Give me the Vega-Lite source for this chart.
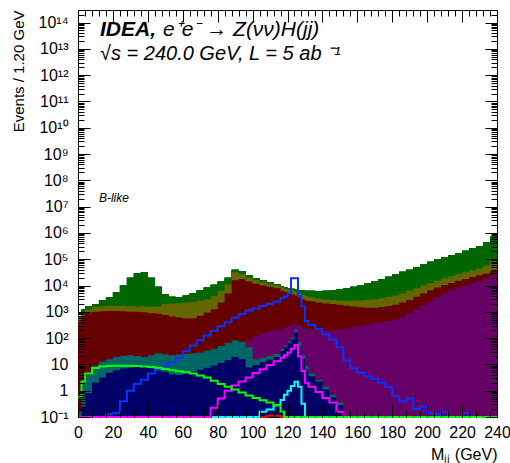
{
  "$schema": "https://vega.github.io/schema/vega-lite/v6.json",
  "width": 419,
  "height": 407,
  "autosize": "none",
  "padding": {"left": 78, "top": 10, "right": 13, "bottom": 46},
  "background": "white",
  "config": {
    "font": "Liberation Sans",
    "view": {"stroke": "black", "strokeWidth": 1},
    "axis": {"grid": false, "labelColor": "black", "tickColor": "black", "titleColor": "black", "labelFont": "Liberation Sans", "titleFont": "Liberation Sans"}
  },
  "data": {"values": [
    {"M":0,"Z":631,"ZZ":562,"WW":398,"qqH":0.01,"HWW":0.158,"HZZ":0.032,"Hss":0.01,"Hbb":0.01,"Hcc":0.01,"Hgg":0.01,"Htt":0.562},
    {"M":2,"Z":1259,"ZZ":891,"WW":708,"qqH":0.01,"HWW":2.0,"HZZ":0.251,"Hss":0.01,"Hbb":0.01,"Hcc":0.01,"Hgg":0.01,"Htt":2.24},
    {"M":4,"Z":1585,"ZZ":1259,"WW":891,"qqH":0.01,"HWW":3.98,"HZZ":0.794,"Hss":0.01,"Hbb":0.01,"Hcc":0.01,"Hgg":0.01,"Htt":4.47},
    {"M":8,"Z":1995,"ZZ":1514,"WW":1000,"qqH":0.01,"HWW":8.9,"HZZ":2.0,"Hss":0.01,"Hbb":0.01,"Hcc":0.01,"Hgg":0.01,"Htt":7.24},
    {"M":12,"Z":2818,"ZZ":1585,"WW":1047,"qqH":0.01,"HWW":12.6,"HZZ":3.16,"Hss":0.01,"Hbb":0.01,"Hcc":0.01,"Hgg":0.01,"Htt":8.32},
    {"M":16,"Z":3548,"ZZ":1660,"WW":1072,"qqH":0.01,"HWW":15.8,"HZZ":4.79,"Hss":0.01,"Hbb":0.126,"Hcc":0.01,"Hgg":0.01,"Htt":8.71},
    {"M":20,"Z":5623,"ZZ":1660,"WW":1072,"qqH":0.01,"HWW":19.1,"HZZ":6.03,"Hss":0.01,"Hbb":0.141,"Hcc":0.01,"Hgg":0.01,"Htt":8.91},
    {"M":24,"Z":10000,"ZZ":1660,"WW":1047,"qqH":0.01,"HWW":21.4,"HZZ":6.92,"Hss":0.01,"Hbb":0.398,"Hcc":0.01,"Hgg":0.01,"Htt":8.91},
    {"M":28,"Z":19953,"ZZ":1660,"WW":1000,"qqH":0.01,"HWW":22.9,"HZZ":7.41,"Hss":0.01,"Hbb":1.0,"Hcc":0.01,"Hgg":0.01,"Htt":8.91},
    {"M":32,"Z":30200,"ZZ":1585,"WW":1000,"qqH":0.01,"HWW":20.9,"HZZ":7.94,"Hss":0.01,"Hbb":1.78,"Hcc":0.01,"Hgg":0.01,"Htt":8.71},
    {"M":36,"Z":31623,"ZZ":1585,"WW":955,"qqH":0.01,"HWW":19.1,"HZZ":7.94,"Hss":0.01,"Hbb":2.63,"Hcc":0.01,"Hgg":0.01,"Htt":8.32},
    {"M":40,"Z":19953,"ZZ":1514,"WW":891,"qqH":0.01,"HWW":22.4,"HZZ":7.08,"Hss":0.01,"Hbb":4.47,"Hcc":0.01,"Hgg":0.01,"Htt":7.94},
    {"M":44,"Z":8913,"ZZ":1585,"WW":851,"qqH":0.01,"HWW":26.3,"HZZ":6.03,"Hss":0.01,"Hbb":6.31,"Hcc":0.01,"Hgg":0.01,"Htt":7.41},
    {"M":48,"Z":4786,"ZZ":1995,"WW":759,"qqH":0.01,"HWW":24.0,"HZZ":5.25,"Hss":0.01,"Hbb":8.91,"Hcc":0.01,"Hgg":0.01,"Htt":6.76},
    {"M":52,"Z":3715,"ZZ":2089,"WW":661,"qqH":0.01,"HWW":22.4,"HZZ":4.17,"Hss":0.01,"Hbb":12.0,"Hcc":0.01,"Hgg":0.01,"Htt":6.03},
    {"M":56,"Z":3548,"ZZ":2138,"WW":603,"qqH":0.01,"HWW":24.0,"HZZ":3.98,"Hss":0.01,"Hbb":17.8,"Hcc":0.01,"Hgg":0.01,"Htt":5.5},
    {"M":60,"Z":4169,"ZZ":2239,"WW":562,"qqH":0.01,"HWW":25.1,"HZZ":4.47,"Hss":0.01,"Hbb":31.6,"Hcc":0.01,"Hgg":0.01,"Htt":5.01},
    {"M":64,"Z":5248,"ZZ":2399,"WW":575,"qqH":0.01,"HWW":26.3,"HZZ":5.25,"Hss":0.01,"Hbb":52.5,"Hcc":0.01,"Hgg":0.01,"Htt":4.47},
    {"M":68,"Z":6607,"ZZ":2630,"WW":708,"qqH":0.01,"HWW":28.2,"HZZ":6.31,"Hss":0.01,"Hbb":83.2,"Hcc":0.01,"Hgg":0.01,"Htt":3.8},
    {"M":72,"Z":8318,"ZZ":3020,"WW":933,"qqH":0.01,"HWW":33.1,"HZZ":7.41,"Hss":0.01,"Hbb":126,"Hcc":0.01,"Hgg":0.01,"Htt":3.16},
    {"M":76,"Z":10715,"ZZ":3981,"WW":1259,"qqH":0.01,"HWW":39.8,"HZZ":8.91,"Hss":0.01,"Hbb":191,"Hcc":0.01,"Hgg":0.224,"Htt":2.4},
    {"M":80,"Z":14125,"ZZ":6310,"WW":2239,"qqH":0.01,"HWW":50.1,"HZZ":11.2,"Hss":0.01,"Hbb":282,"Hcc":0.01,"Hgg":0.501,"Htt":1.78},
    {"M":84,"Z":19953,"ZZ":11220,"WW":5012,"qqH":0.01,"HWW":66.1,"HZZ":14.8,"Hss":0.01,"Hbb":398,"Hcc":0.01,"Hgg":1.0,"Htt":1.41},
    {"M":88,"Z":39811,"ZZ":31623,"WW":15849,"qqH":15.8,"HWW":83.2,"HZZ":19.1,"Hss":0.01,"Hbb":603,"Hcc":0.01,"Hgg":1.58,"Htt":1.12},
    {"M":92,"Z":35481,"ZZ":28184,"WW":17783,"qqH":39.8,"HWW":70.8,"HZZ":15.8,"Hss":0.01,"Hbb":832,"Hcc":0.01,"Hgg":2.24,"Htt":0.851},
    {"M":96,"Z":23988,"ZZ":19953,"WW":14125,"qqH":79.4,"HWW":44.7,"HZZ":7.59,"Hss":0.01,"Hbb":1122,"Hcc":0.01,"Hgg":3.16,"Htt":0.661},
    {"M":100,"Z":19055,"ZZ":15849,"WW":11749,"qqH":126,"HWW":15.8,"HZZ":9.55,"Hss":0.01,"Hbb":1349,"Hcc":0.01,"Hgg":4.68,"Htt":0.525},
    {"M":104,"Z":15849,"ZZ":13183,"WW":10000,"qqH":158,"HWW":17.8,"HZZ":12.0,"Hss":0.01,"Hbb":1660,"Hcc":0.158,"Hgg":6.61,"Htt":0.437},
    {"M":108,"Z":13183,"ZZ":11220,"WW":8913,"qqH":178,"HWW":20.9,"HZZ":15.1,"Hss":0.112,"Hbb":1995,"Hcc":0.191,"Hgg":9.55,"Htt":0.355},
    {"M":112,"Z":11220,"ZZ":10000,"WW":7943,"qqH":200,"HWW":25.1,"HZZ":19.1,"Hss":0.112,"Hbb":2399,"Hcc":0.282,"Hgg":13.2,"Htt":0.282},
    {"M":116,"Z":9333,"ZZ":8511,"WW":6310,"qqH":224,"HWW":39.8,"HZZ":31.6,"Hss":0.01,"Hbb":3311,"Hcc":0.447,"Hgg":17.8,"Htt":0.158},
    {"M":118,"Z":8511,"ZZ":7586,"WW":5754,"qqH":251,"HWW":52.5,"HZZ":44.7,"Hss":0.01,"Hbb":3802,"Hcc":0.708,"Hgg":22.4,"Htt":0.01},
    {"M":120,"Z":7943,"ZZ":7079,"WW":5248,"qqH":282,"HWW":75.9,"HZZ":63.1,"Hss":0.01,"Hbb":5012,"Hcc":1.0,"Hgg":28.2,"Htt":0.01},
    {"M":122,"Z":7586,"ZZ":6310,"WW":4677,"qqH":316,"HWW":107,"HZZ":89.1,"Hss":0.01,"Hbb":19055,"Hcc":1.51,"Hgg":39.8,"Htt":0.01},
    {"M":124,"Z":7079,"ZZ":5623,"WW":4169,"qqH":355,"HWW":209,"HZZ":166,"Hss":0.01,"Hbb":19055,"Hcc":2.19,"Hgg":55.0,"Htt":0.01},
    {"M":126,"Z":6761,"ZZ":5012,"WW":3548,"qqH":316,"HWW":70.8,"HZZ":50.1,"Hss":0.01,"Hbb":3981,"Hcc":1.41,"Hgg":20.0,"Htt":0.01},
    {"M":128,"Z":6607,"ZZ":4467,"WW":3020,"qqH":251,"HWW":22.4,"HZZ":15.8,"Hss":0.01,"Hbb":1585,"Hcc":0.316,"Hgg":5.62,"Htt":0.01},
    {"M":130,"Z":6310,"ZZ":3981,"WW":2692,"qqH":224,"HWW":8.91,"HZZ":6.31,"Hss":0.01,"Hbb":447,"Hcc":0.01,"Hgg":2.0,"Htt":0.01},
    {"M":132,"Z":6310,"ZZ":3548,"WW":2512,"qqH":200,"HWW":4.47,"HZZ":3.55,"Hss":0.01,"Hbb":316,"Hcc":0.01,"Hgg":1.41,"Htt":0.01},
    {"M":136,"Z":6166,"ZZ":3162,"WW":2239,"qqH":191,"HWW":2.63,"HZZ":2.24,"Hss":0.01,"Hbb":224,"Hcc":0.01,"Hgg":0.891,"Htt":0.01},
    {"M":140,"Z":6310,"ZZ":2951,"WW":2089,"qqH":191,"HWW":1.41,"HZZ":1.12,"Hss":0.01,"Hbb":141,"Hcc":0.01,"Hgg":0.525,"Htt":0.01},
    {"M":144,"Z":6761,"ZZ":2818,"WW":1995,"qqH":200,"HWW":0.708,"HZZ":0.562,"Hss":0.01,"Hbb":89.1,"Hcc":0.01,"Hgg":0.355,"Htt":0.01},
    {"M":148,"Z":7244,"ZZ":2692,"WW":1862,"qqH":214,"HWW":0.355,"HZZ":0.282,"Hss":0.01,"Hbb":44.7,"Hcc":0.01,"Hgg":0.158,"Htt":0.01},
    {"M":152,"Z":7943,"ZZ":2630,"WW":1698,"qqH":234,"HWW":0.01,"HZZ":0.01,"Hss":0.01,"Hbb":14.1,"Hcc":0.01,"Hgg":0.01,"Htt":0.01},
    {"M":156,"Z":8913,"ZZ":2630,"WW":1585,"qqH":263,"HWW":0.01,"HZZ":0.01,"Hss":0.01,"Hbb":7.08,"Hcc":0.01,"Hgg":0.01,"Htt":0.01},
    {"M":160,"Z":10000,"ZZ":2692,"WW":1479,"qqH":295,"HWW":0.01,"HZZ":0.01,"Hss":0.01,"Hbb":4.79,"Hcc":0.01,"Hgg":0.01,"Htt":0.01},
    {"M":164,"Z":12023,"ZZ":2818,"WW":1413,"qqH":331,"HWW":0.01,"HZZ":0.01,"Hss":0.01,"Hbb":3.55,"Hcc":0.01,"Hgg":0.01,"Htt":0.01},
    {"M":168,"Z":14125,"ZZ":3020,"WW":1413,"qqH":372,"HWW":0.01,"HZZ":0.01,"Hss":0.01,"Hbb":2.82,"Hcc":0.01,"Hgg":0.01,"Htt":0.01},
    {"M":172,"Z":17783,"ZZ":3311,"WW":1514,"qqH":398,"HWW":0.01,"HZZ":0.01,"Hss":0.01,"Hbb":2.0,"Hcc":0.01,"Hgg":0.01,"Htt":0.01},
    {"M":176,"Z":21380,"ZZ":3631,"WW":1660,"qqH":447,"HWW":0.01,"HZZ":0.01,"Hss":0.01,"Hbb":1.41,"Hcc":0.01,"Hgg":0.01,"Htt":0.01},
    {"M":180,"Z":26915,"ZZ":4169,"WW":1862,"qqH":501,"HWW":0.01,"HZZ":0.01,"Hss":0.01,"Hbb":0.631,"Hcc":0.01,"Hgg":0.01,"Htt":0.01},
    {"M":184,"Z":33113,"ZZ":5012,"WW":2239,"qqH":631,"HWW":0.01,"HZZ":0.01,"Hss":0.01,"Hbb":0.398,"Hcc":0.01,"Hgg":0.01,"Htt":0.01},
    {"M":188,"Z":39811,"ZZ":6310,"WW":2818,"qqH":891,"HWW":0.01,"HZZ":0.01,"Hss":0.01,"Hbb":0.501,"Hcc":0.01,"Hgg":0.01,"Htt":0.01},
    {"M":192,"Z":50119,"ZZ":7943,"WW":3715,"qqH":1259,"HWW":0.01,"HZZ":0.01,"Hss":0.01,"Hbb":0.2,"Hcc":0.01,"Hgg":0.01,"Htt":0.01},
    {"M":196,"Z":63096,"ZZ":10000,"WW":5012,"qqH":1778,"HWW":0.01,"HZZ":0.01,"Hss":0.01,"Hbb":0.251,"Hcc":0.01,"Hgg":0.01,"Htt":0.01},
    {"M":200,"Z":79433,"ZZ":12589,"WW":6607,"qqH":2512,"HWW":0.01,"HZZ":0.01,"Hss":0.01,"Hbb":0.141,"Hcc":0.01,"Hgg":0.01,"Htt":0.01},
    {"M":204,"Z":100000,"ZZ":15136,"WW":8318,"qqH":3548,"HWW":0.01,"HZZ":0.01,"Hss":0.01,"Hbb":0.126,"Hcc":0.01,"Hgg":0.01,"Htt":0.01},
    {"M":208,"Z":120226,"ZZ":18621,"WW":10471,"qqH":5012,"HWW":0.01,"HZZ":0.01,"Hss":0.01,"Hbb":0.158,"Hcc":0.01,"Hgg":0.01,"Htt":0.01},
    {"M":212,"Z":141254,"ZZ":22387,"WW":12589,"qqH":6607,"HWW":0.01,"HZZ":0.01,"Hss":0.01,"Hbb":0.01,"Hcc":0.01,"Hgg":0.01,"Htt":0.01},
    {"M":216,"Z":165959,"ZZ":26915,"WW":15136,"qqH":8318,"HWW":0.01,"HZZ":0.01,"Hss":0.01,"Hbb":0.01,"Hcc":0.01,"Hgg":0.01,"Htt":0.01},
    {"M":220,"Z":208930,"ZZ":31623,"WW":17783,"qqH":10000,"HWW":0.01,"HZZ":0.01,"Hss":0.01,"Hbb":0.141,"Hcc":0.01,"Hgg":0.01,"Htt":0.01},
    {"M":224,"Z":263027,"ZZ":37154,"WW":20893,"qqH":12023,"HWW":0.01,"HZZ":0.01,"Hss":0.01,"Hbb":0.01,"Hcc":0.01,"Hgg":0.01,"Htt":0.01},
    {"M":228,"Z":316228,"ZZ":44668,"WW":24547,"qqH":14454,"HWW":0.01,"HZZ":0.01,"Hss":0.01,"Hbb":0.01,"Hcc":0.01,"Hgg":0.01,"Htt":0.01},
    {"M":232,"Z":446684,"ZZ":57544,"WW":28840,"qqH":19055,"HWW":0.01,"HZZ":0.01,"Hss":0.01,"Hbb":0.01,"Hcc":0.01,"Hgg":0.01,"Htt":0.01},
    {"M":236,"Z":707946,"ZZ":79433,"WW":35481,"qqH":23988,"HWW":0.01,"HZZ":0.01,"Hss":0.01,"Hbb":0.01,"Hcc":0.01,"Hgg":0.01,"Htt":0.01},
    {"M":238,"Z":1000000,"ZZ":100000,"WW":39811,"qqH":26303,"HWW":0.01,"HZZ":0.01,"Hss":0.01,"Hbb":0.01,"Hcc":0.01,"Hgg":0.01,"Htt":0.01},
    {"M":240,"Z":1412538,"ZZ":141254,"WW":50119,"qqH":31623,"HWW":0.01,"HZZ":0.01,"Hss":0.01,"Hbb":0.01,"Hcc":0.01,"Hgg":0.01,"Htt":0.01}
  ]},
  "resolve": {"scale": {"x": "independent", "y": "independent"}, "axis": {"x": "independent", "y": "independent"}},
  "layer": [
    {
      "mark": {"type": "area", "interpolate": "step-after", "opacity": 1, "color": "#006600"},
      "encoding": {
        "x": {"field": "M", "type": "quantitative", "scale": {"domain": [0, 240], "nice": false, "zero": false},
          "axis": {"orient": "bottom", "values": [0,20,40,60,80,100,120,140,160,180,200,220,240], "ticks": true, "tickSize": -12, "domain": false, "labelPadding": 19, "labelFontSize": 16, "labelFlush": false, "labelOverlap": false, "zindex": 1,
            "title": "Mⱼⱼ (GeV)", "titleFontSize": 16, "titleFontWeight": "normal", "titleX": 419, "titleY": 37, "titleAlign": "right", "titleBaseline": "middle"}},
        "y": {"field": "Z", "type": "quantitative", "scale": {"type": "log", "domain": [0.1, 300000000000000], "clamp": true, "nice": false},
          "axis": {"orient": "left", "values": [0.1,1,10,100,1e3,1e4,1e5,1e6,1e7,1e8,1e9,1e10,1e11,1e12,1e13,1e14], "ticks": true, "tickSize": -12, "domain": false, "labelPadding": 22, "labelFontSize": 16, "labelOverlap": false, "labelFlush": false, "zindex": 1,
            "labelExpr": "datum.value < 0.5 ? '10⁻¹' : datum.value < 5 ? '1' : datum.value < 50 ? '10' : '10' + ['','','²','³','⁴','⁵','⁶','⁷','⁸','⁹','¹⁰','¹¹','¹²','¹³','¹⁴'][round(log(datum.value)/LN10)]",
            "title": "Events / 1.20 GeV", "titleFontSize": 15, "titleFontWeight": "normal", "titleX": -60, "titleY": 0, "titleAngle": 270, "titleAlign": "right", "titleBaseline": "middle"}},
        "y2": {"datum": 0.1}
      }
    },
    {
      "mark": {"type": "area", "interpolate": "step-after", "opacity": 1, "color": "#006600"},
      "encoding": {
        "x": {"field": "M", "type": "quantitative", "scale": {"domain": [0, 240], "nice": false, "zero": false}, "axis": {"orient": "bottom", "tickSize": -6, "values": [0,4,8,12,16,20,24,28,32,36,40,44,48,52,56,60,64,68,72,76,80,84,88,92,96,100,104,108,112,116,120,124,128,132,136,140,144,148,152,156,160,164,168,172,176,180,184,188,192,196,200,204,208,212,216,220,224,228,232,236,240], "labels": false, "domain": false, "title": null, "zindex": 1}},
        "y": {"field": "Z", "type": "quantitative", "scale": {"type": "log", "domain": [0.1, 300000000000000], "clamp": true, "nice": false}, "axis": {"orient": "left", "tickSize": -6, "values": [0.2,0.3,0.4,0.5,0.6,0.7,0.8,0.9,2,3,4,5,6,7,8,9,20,30,40,50,60,70,80,90,200,300,400,500,600,700,800,900,2e3,3e3,4e3,5e3,6e3,7e3,8e3,9e3,2e4,3e4,4e4,5e4,6e4,7e4,8e4,9e4,2e5,3e5,4e5,5e5,6e5,7e5,8e5,9e5,2e6,3e6,4e6,5e6,6e6,7e6,8e6,9e6,2e7,3e7,4e7,5e7,6e7,7e7,8e7,9e7,2e8,3e8,4e8,5e8,6e8,7e8,8e8,9e8,2e9,3e9,4e9,5e9,6e9,7e9,8e9,9e9,2e10,3e10,4e10,5e10,6e10,7e10,8e10,9e10,2e11,3e11,4e11,5e11,6e11,7e11,8e11,9e11,2e12,3e12,4e12,5e12,6e12,7e12,8e12,9e12,2e13,3e13,4e13,5e13,6e13,7e13,8e13,9e13,2e14], "labels": false, "domain": false, "title": null, "zindex": 1}},
        "y2": {"datum": 0.1}
      }
    },
    {
      "mark": {"type": "area", "interpolate": "step-after", "opacity": 1, "color": "#006600"},
      "encoding": {
        "x": {"field": "M", "type": "quantitative", "scale": {"domain": [0, 240], "nice": false, "zero": false}, "axis": {"orient": "top", "tickSize": -12, "values": [0,20,40,60,80,100,120,140,160,180,200,220,240], "labels": false, "domain": false, "title": null, "zindex": 1}},
        "y": {"field": "Z", "type": "quantitative", "scale": {"type": "log", "domain": [0.1, 300000000000000], "clamp": true, "nice": false}, "axis": {"orient": "right", "tickSize": -12, "values": [0.1,1,10,100,1e3,1e4,1e5,1e6,1e7,1e8,1e9,1e10,1e11,1e12,1e13,1e14], "labels": false, "domain": false, "title": null, "zindex": 1}},
        "y2": {"datum": 0.1}
      }
    },
    {
      "mark": {"type": "area", "interpolate": "step-after", "opacity": 1, "color": "#006600"},
      "encoding": {
        "x": {"field": "M", "type": "quantitative", "scale": {"domain": [0, 240], "nice": false, "zero": false}, "axis": {"orient": "top", "tickSize": -6, "values": [0,4,8,12,16,20,24,28,32,36,40,44,48,52,56,60,64,68,72,76,80,84,88,92,96,100,104,108,112,116,120,124,128,132,136,140,144,148,152,156,160,164,168,172,176,180,184,188,192,196,200,204,208,212,216,220,224,228,232,236,240], "labels": false, "domain": false, "title": null, "zindex": 1}},
        "y": {"field": "Z", "type": "quantitative", "scale": {"type": "log", "domain": [0.1, 300000000000000], "clamp": true, "nice": false}, "axis": {"orient": "right", "tickSize": -6, "values": [0.2,0.3,0.4,0.5,0.6,0.7,0.8,0.9,2,3,4,5,6,7,8,9,20,30,40,50,60,70,80,90,200,300,400,500,600,700,800,900,2e3,3e3,4e3,5e3,6e3,7e3,8e3,9e3,2e4,3e4,4e4,5e4,6e4,7e4,8e4,9e4,2e5,3e5,4e5,5e5,6e5,7e5,8e5,9e5,2e6,3e6,4e6,5e6,6e6,7e6,8e6,9e6,2e7,3e7,4e7,5e7,6e7,7e7,8e7,9e7,2e8,3e8,4e8,5e8,6e8,7e8,8e8,9e8,2e9,3e9,4e9,5e9,6e9,7e9,8e9,9e9,2e10,3e10,4e10,5e10,6e10,7e10,8e10,9e10,2e11,3e11,4e11,5e11,6e11,7e11,8e11,9e11,2e12,3e12,4e12,5e12,6e12,7e12,8e12,9e12,2e13,3e13,4e13,5e13,6e13,7e13,8e13,9e13,2e14], "labels": false, "domain": false, "title": null, "zindex": 1}},
        "y2": {"datum": 0.1}
      }
    },
    {
      "mark": {"type": "area", "interpolate": "step-after", "opacity": 1},
      "encoding": {
        "x": {"field": "M", "type": "quantitative", "scale": {"domain": [0, 240], "nice": false, "zero": false}, "axis": null},
        "y": {"field": "Z", "type": "quantitative", "scale": {"type": "log", "domain": [0.1, 300000000000000], "clamp": true, "nice": false}, "axis": null},
        "y2": {"datum": 0.1},
        "fill": {"datum": "Z", "type": "nominal",
          "scale": {"domain": ["WW", "ZZ", "Z", "HWW", "HZZ", "qqH"], "range": ["#660000", "#666600", "#006600", "#006666", "#000066", "#660066"]},
          "legend": null}
      }
    },
    {
      "mark": {"type": "area", "interpolate": "step-after", "opacity": 1},
      "encoding": {
        "x": {"field": "M", "type": "quantitative", "scale": {"domain": [0, 240], "nice": false, "zero": false}, "axis": null},
        "y": {"field": "ZZ", "type": "quantitative", "scale": {"type": "log", "domain": [0.1, 300000000000000], "clamp": true, "nice": false}, "axis": null},
        "y2": {"datum": 0.1},
        "fill": {"datum": "ZZ", "type": "nominal", "legend": null}
      }
    },
    {
      "mark": {"type": "area", "interpolate": "step-after", "opacity": 1},
      "encoding": {
        "x": {"field": "M", "type": "quantitative", "scale": {"domain": [0, 240], "nice": false, "zero": false}, "axis": null},
        "y": {"field": "WW", "type": "quantitative", "scale": {"type": "log", "domain": [0.1, 300000000000000], "clamp": true, "nice": false}, "axis": null},
        "y2": {"datum": 0.1},
        "fill": {"datum": "WW", "type": "nominal", "legend": null}
      }
    },
    {
      "mark": {"type": "area", "interpolate": "step-after", "opacity": 1},
      "encoding": {
        "x": {"field": "M", "type": "quantitative", "scale": {"domain": [0, 240], "nice": false, "zero": false}, "axis": null},
        "y": {"field": "qqH", "type": "quantitative", "scale": {"type": "log", "domain": [0.1, 300000000000000], "clamp": true, "nice": false}, "axis": null},
        "y2": {"datum": 0.1},
        "fill": {"datum": "qqH", "type": "nominal", "legend": null}
      }
    },
    {
      "mark": {"type": "area", "interpolate": "step-after", "opacity": 1},
      "encoding": {
        "x": {"field": "M", "type": "quantitative", "scale": {"domain": [0, 240], "nice": false, "zero": false}, "axis": null},
        "y": {"field": "HWW", "type": "quantitative", "scale": {"type": "log", "domain": [0.1, 300000000000000], "clamp": true, "nice": false}, "axis": null},
        "y2": {"datum": 0.1},
        "fill": {"datum": "HWW", "type": "nominal", "legend": null}
      }
    },
    {
      "mark": {"type": "area", "interpolate": "step-after", "opacity": 1},
      "encoding": {
        "x": {"field": "M", "type": "quantitative", "scale": {"domain": [0, 240], "nice": false, "zero": false}, "axis": null},
        "y": {"field": "HZZ", "type": "quantitative", "scale": {"type": "log", "domain": [0.1, 300000000000000], "clamp": true, "nice": false}, "axis": null},
        "y2": {"datum": 0.1},
        "fill": {"datum": "HZZ", "type": "nominal", "legend": null}
      }
    },
    {
      "mark": {"type": "line", "interpolate": "step-after", "strokeWidth": 2},
      "encoding": {
        "x": {"field": "M", "type": "quantitative", "scale": {"domain": [0, 240], "nice": false, "zero": false}, "axis": null},
        "y": {"field": "Hss", "type": "quantitative", "scale": {"type": "log", "domain": [0.1, 300000000000000], "clamp": true, "nice": false}, "axis": null},
        "stroke": {"datum": "Hss", "type": "nominal",
          "scale": {"domain": ["Hss", "Hbb", "Hcc", "Hgg", "Hττ"], "range": ["#ff0000", "#0a32ff", "#00ffff", "#ff00ff", "#00ff00"]},
          "legend": null}
      }
    },
    {
      "mark": {"type": "line", "interpolate": "step-after", "strokeWidth": 2},
      "encoding": {
        "x": {"field": "M", "type": "quantitative", "scale": {"domain": [0, 240], "nice": false, "zero": false}, "axis": null},
        "y": {"field": "Hbb", "type": "quantitative", "scale": {"type": "log", "domain": [0.1, 300000000000000], "clamp": true, "nice": false}, "axis": null},
        "stroke": {"datum": "Hbb", "type": "nominal", "legend": null}
      }
    },
    {
      "mark": {"type": "line", "interpolate": "step-after", "strokeWidth": 2},
      "encoding": {
        "x": {"field": "M", "type": "quantitative", "scale": {"domain": [0, 240], "nice": false, "zero": false}, "axis": null},
        "y": {"field": "Hcc", "type": "quantitative", "scale": {"type": "log", "domain": [0.1, 300000000000000], "clamp": true, "nice": false}, "axis": null},
        "stroke": {"datum": "Hcc", "type": "nominal", "legend": null}
      }
    },
    {
      "mark": {"type": "line", "interpolate": "step-after", "strokeWidth": 2},
      "encoding": {
        "x": {"field": "M", "type": "quantitative", "scale": {"domain": [0, 240], "nice": false, "zero": false}, "axis": null},
        "y": {"field": "Hgg", "type": "quantitative", "scale": {"type": "log", "domain": [0.1, 300000000000000], "clamp": true, "nice": false}, "axis": null},
        "stroke": {"datum": "Hgg", "type": "nominal", "legend": null}
      }
    },
    {
      "mark": {"type": "line", "interpolate": "step-after", "strokeWidth": 2},
      "encoding": {
        "x": {"field": "M", "type": "quantitative", "scale": {"domain": [0, 240], "nice": false, "zero": false}, "axis": null},
        "y": {"field": "Htt", "type": "quantitative", "scale": {"type": "log", "domain": [0.1, 300000000000000], "clamp": true, "nice": false}, "axis": null},
        "stroke": {"datum": "Hττ", "type": "nominal", "legend": null}
      }
    },
    {
      "transform": [{"filter": "datum.M == 0"}],
      "mark": {"type": "text", "text": "IDEA,", "font": "Liberation Sans", "fontSize": 21, "fontWeight": "bold", "fontStyle": "italic", "align": "left", "baseline": "alphabetic", "color": "black"},
      "encoding": {"x": {"datum": 12.6, "type": "quantitative", "scale": {"domain": [0, 240], "nice": false, "zero": false}, "axis": null}, "y": {"datum": 31000000000000, "type": "quantitative", "scale": {"type": "log", "domain": [0.1, 300000000000000], "clamp": true, "nice": false}, "axis": null}}
    },
    {
      "transform": [{"filter": "datum.M == 0"}],
      "mark": {"type": "text", "text": "e⁺e⁻ → Z(νν)H(jj)", "font": "Liberation Sans", "fontSize": 21, "fontStyle": "italic", "align": "left", "baseline": "alphabetic", "color": "black"},
      "encoding": {"x": {"datum": 48.7, "type": "quantitative", "scale": {"domain": [0, 240], "nice": false, "zero": false}, "axis": null}, "y": {"datum": 31000000000000, "type": "quantitative", "scale": {"type": "log", "domain": [0.1, 300000000000000], "clamp": true, "nice": false}, "axis": null}}
    },
    {
      "transform": [{"filter": "datum.M == 0"}],
      "mark": {"type": "text", "text": "√s = 240.0 GeV,   L = 5 ab ⁻¹", "font": "Liberation Sans", "fontSize": 20, "fontStyle": "italic", "align": "left", "baseline": "alphabetic", "color": "black"},
      "encoding": {"x": {"datum": 12.6, "type": "quantitative", "scale": {"domain": [0, 240], "nice": false, "zero": false}, "axis": null}, "y": {"datum": 3700000000000, "type": "quantitative", "scale": {"type": "log", "domain": [0.1, 300000000000000], "clamp": true, "nice": false}, "axis": null}}
    },
    {
      "transform": [{"filter": "datum.M == 0"}],
      "mark": {"type": "text", "text": "B-like", "font": "Liberation Sans", "fontSize": 12, "fontStyle": "italic", "align": "left", "baseline": "alphabetic", "color": "black"},
      "encoding": {"x": {"datum": 12.0, "type": "quantitative", "scale": {"domain": [0, 240], "nice": false, "zero": false}, "axis": null}, "y": {"datum": 14800000, "type": "quantitative", "scale": {"type": "log", "domain": [0.1, 300000000000000], "clamp": true, "nice": false}, "axis": null}}
    }
  ]
}
